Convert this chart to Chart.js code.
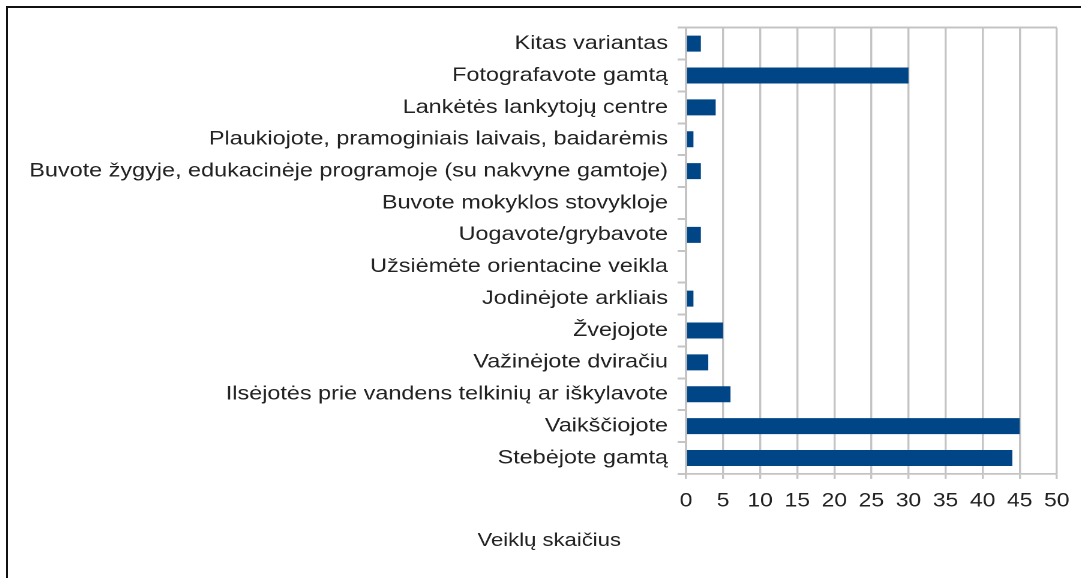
<!DOCTYPE html>
<html>
<head>
<meta charset="utf-8">
<script src="https://cdn.jsdelivr.net/npm/chart.js@4"></script>
<style>
  html, body { margin: 0; padding: 0; background: #fff; overflow: hidden; }
  #frame { position: absolute; left: 6px; top: 6px; width: 1200px; height: 700px; border: 2px solid #111; }
  #wrap { position: absolute; left: 8px; top: 8px; width: 914px; height: 570px; transform: scaleX(1.2); transform-origin: 0 0; }
</style>
</head>
<body>
<div id="frame"></div>
<div id="wrap"><canvas id="c"></canvas></div>
<script>
const categories = [
  "Kitas variantas",
  "Fotografavote gamtą",
  "Lankėtės lankytojų centre",
  "Plaukiojote, pramoginiais laivais, baidarėmis",
  "Buvote žygyje, edukacinėje programoje (su nakvyne gamtoje)",
  "Buvote mokyklos stovykloje",
  "Uogavote/grybavote",
  "Užsiėmėte orientacine veikla",
  "Jodinėjote arkliais",
  "Žvejojote",
  "Važinėjote dviračiu",
  "Ilsėjotės prie vandens telkinių ar iškylavote",
  "Vaikščiojote",
  "Stebėjote gamtą"
];
const values = [2, 30, 4, 1, 2, 0, 2, 0, 1, 5, 3, 6, 45, 44];
const axisTitle = "Veiklų skaičius";
const xMin = 0, xMax = 50, xStep = 5;

const FONT = "'Liberation Sans', Arial, sans-serif";
const n = categories.length;

new Chart(document.getElementById('c'), {
  type: 'bar',
  data: {
    labels: categories,
    datasets: [{
      data: values,
      backgroundColor: '#004586',
      borderWidth: 0,
      categoryPercentage: 1.0,
      barPercentage: 0.5
    }]
  },
  options: {
    indexAxis: 'y',
    responsive: true,
    maintainAspectRatio: false,
    animation: false,
    devicePixelRatio: 2,
    layout: { padding: { top: 4, right: 20, left: 8, bottom: 0 } },
    plugins: {
      legend: { display: false },
      tooltip: { enabled: false },
      title: {
        display: true,
        position: 'bottom',
        text: axisTitle,
        color: '#222',
        font: { family: FONT, size: 18.4, weight: 'normal' },
        padding: { top: 16, bottom: 26 }
      }
    },
    scales: {
      x: {
        min: xMin, max: xMax,
        ticks: { stepSize: xStep, color: '#222', padding: 11, font: { family: FONT, size: 19 } },
        grid: { color: '#c4c4c4', lineWidth: 1.7, tickLength: 5, tickColor: '#c4c4c4' },
        border: { display: true, color: '#c4c4c4', width: 1.7 },
        afterFit: s => { s.height = 40; }
      },
      y: {
        offset: true,
        ticks: { color: '#222', padding: 8, font: { family: FONT, size: 19.5 } },
        grid: {
          offset: true,
          lineWidth: 2,
          tickLength: 7,
          tickColor: '#c4c4c4',
          color: ctx => (ctx.index === 0 || ctx.index === n) ? '#c4c4c4' : 'rgba(0,0,0,0)'
        },
        border: { display: true, color: '#c4c4c4', width: 2 },
        afterFit: s => { s.width = 557; }
      },
      ySpacer: {
        type: 'category',
        axis: 'y',
        position: 'right',
        offset: true,
        ticks: { display: false },
        grid: { display: false, drawTicks: false },
        border: { display: false },
        afterFit: s => { s.width = 20; }
      }
    }
  }
});
</script>
</body>
</html>
